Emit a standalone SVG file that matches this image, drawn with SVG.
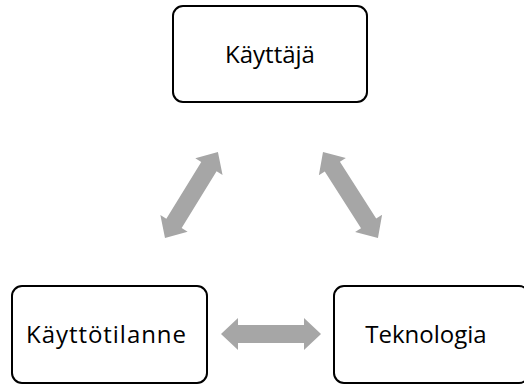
<svg xmlns="http://www.w3.org/2000/svg" width="524" height="385" viewBox="0 0 524 385">
<style>
.box{fill:#fff;stroke:#000;stroke-width:2}
.lbl{font-family:"Open Sans","Liberation Sans",sans-serif;font-size:24px;fill:#000;text-anchor:middle}
.arr{fill:#A6A6A6}
</style>
<defs>
<polygon id="dbl" points="0,0 17,-16 17,-9 83,-9 83,-16 100,0 83,16 83,9 17,9 17,16"/>
</defs>
<rect width="524" height="385" fill="#fff"/>
<g id="connectors" class="arr">
<use href="#dbl" transform="translate(221,334)"/>
<use href="#dbl" transform="translate(165,238) rotate(-58.4) scale(1.01,1)"/>
<use href="#dbl" transform="translate(323,152) rotate(57.4) scale(1.02,1)"/>
</g>
<g id="kayttaja">
<rect class="box" x="173" y="6" width="194" height="96" rx="10"/>
<text class="lbl" x="270" y="63">Käyttäjä</text>
</g>
<g id="kayttotilanne">
<rect class="box" x="12" y="286" width="195" height="97" rx="10"/>
<text class="lbl" x="106" y="343" textLength="160" lengthAdjust="spacing">Käyttötilanne</text>
</g>
<g id="teknologia">
<rect class="box" x="334" y="286" width="195" height="97" rx="10"/>
<text class="lbl" x="426" y="343">Teknologia</text>
</g>
</svg>
